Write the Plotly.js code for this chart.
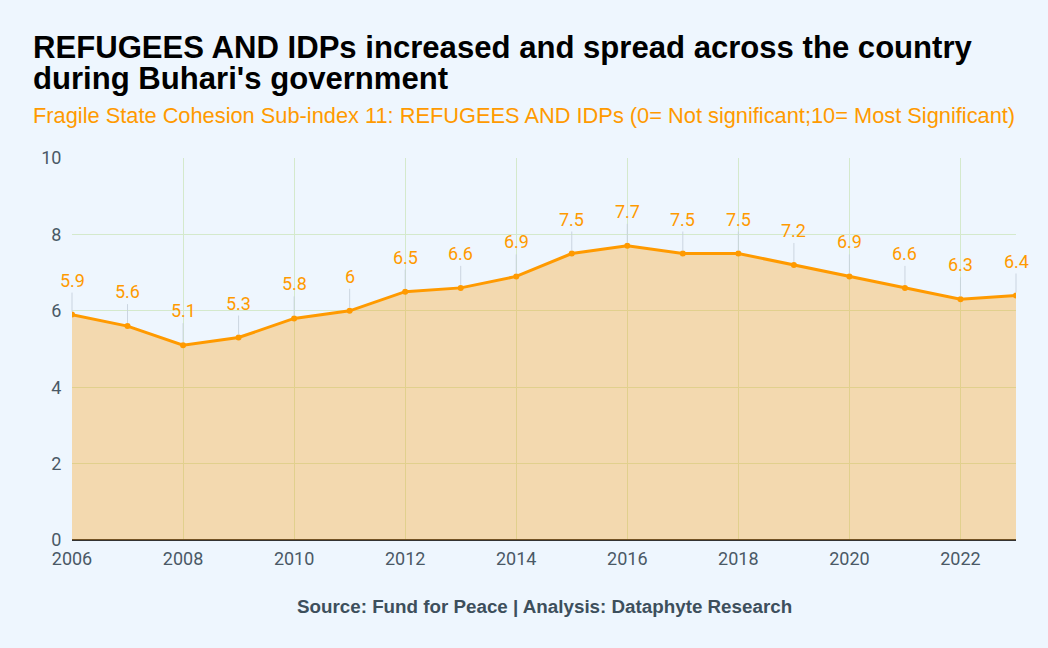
<!DOCTYPE html>
<html><head><meta charset="utf-8">
<script src="https://cdn.plot.ly/plotly-3.0.1.min.js"></script>
<style>html,body{margin:0;padding:0;background:#eef6fe;}#chart{width:1048px;height:648px;}</style>
</head><body><div id="chart"></div>
<script>
const years = [2006,2007,2008,2009,2010,2011,2012,2013,2014,2015,2016,2017,2018,2019,2020,2021,2022,2023];
const values = [5.9,5.6,5.1,5.3,5.8,6,6.5,6.6,6.9,7.5,7.7,7.5,7.5,7.2,6.9,6.6,6.3,6.4];
const xTicks = [2006,2008,2010,2012,2014,2016,2018,2020,2022];
const yTicks = [0,2,4,6,8,10];
const titleLine1 = "REFUGEES AND IDPs increased and spread across the country";
const titleLine2 = "during Buhari's government";
const subtitleText = "Fragile State Cohesion Sub-index 11: REFUGEES AND IDPs (0= Not significant;10= Most Significant)";
const sourceText = "Source: Fund for Peace | Analysis: Dataphyte Research";

const orange = '#ff9a00';
const labelAnn = years.map((y,i)=>({
  x: y, y: values[i], xref:'x', yref:'y',
  text: String(values[i]), showarrow: true, arrowhead: 0, arrowwidth: 1,
  arrowcolor: 'rgba(200,210,222,0.9)', ax: 0, ay: -22, standoff: 3,
  yanchor: 'bottom', font: {family:'Roboto, sans-serif', size:18, color: orange}
}));

const trace = {
  x: years, y: values, type:'scatter', mode:'lines+markers',
  line:{color: orange, width:3}, marker:{color: orange, size:6},
  fill:'tozeroy', fillcolor:'rgba(255,152,0,0.31)', hoverinfo:'x+y'
};

const tf = {family:'Roboto, sans-serif', size:18, color:'#4a5966'};
const layout = {
  width:1048, height:648,
  paper_bgcolor:'#eef6fe', plot_bgcolor:'#eef6fe',
  margin:{l:72, r:32, t:158, b:108},
  showlegend:false,
  xaxis:{range:[2006,2023], tickvals:xTicks, ticktext:xTicks.map(String),
    showgrid:true, gridcolor:'#d4e9cc', gridwidth:1, zeroline:false,
    showline:false, ticks:'outside', ticklen:2, tickcolor:'rgba(0,0,0,0)', tickfont:tf},
  yaxis:{range:[0,10], tickvals:yTicks, showgrid:true, gridcolor:'#d4e9cc', gridwidth:1,
    zeroline:true, zerolinecolor:'#333333', zerolinewidth:2, showline:false,
    ticks:'outside', ticklen:6, tickcolor:'rgba(0,0,0,0)', tickfont:tf},
  annotations: labelAnn.concat([
    {xref:'paper', yref:'paper', x:-0.0435, y:(540-47)/382, xanchor:'left', yanchor:'middle', align:'left',
     text:'<b>'+titleLine1+'</b>', showarrow:false,
     font:{family:'Liberation Sans, Arial, sans-serif', size:31.1, color:'#000'}},
    {xref:'paper', yref:'paper', x:-0.0435, y:(540-78)/382, xanchor:'left', yanchor:'middle', align:'left',
     text:'<b>'+titleLine2+'</b>', showarrow:false,
     font:{family:'Liberation Sans, Arial, sans-serif', size:31.1, color:'#000'}},
    {xref:'paper', yref:'paper', x:-0.0435, y:(540-116)/382, xanchor:'left', yanchor:'middle', align:'left',
     text:subtitleText, showarrow:false,
     font:{family:'Liberation Sans, Arial, sans-serif', size:21.8, color:orange}},
    {xref:'paper', yref:'paper', x:0.5, y:(540-606)/382, xanchor:'center', yanchor:'middle',
     text:'<b>'+sourceText+'</b>', showarrow:false,
     font:{family:'Liberation Sans, Arial, sans-serif', size:18.8, color:'#3d4f5c'}}
  ])
};

Plotly.newPlot('chart',[trace],layout,{displayModeBar:false, staticPlot:true});
</script></body></html>
